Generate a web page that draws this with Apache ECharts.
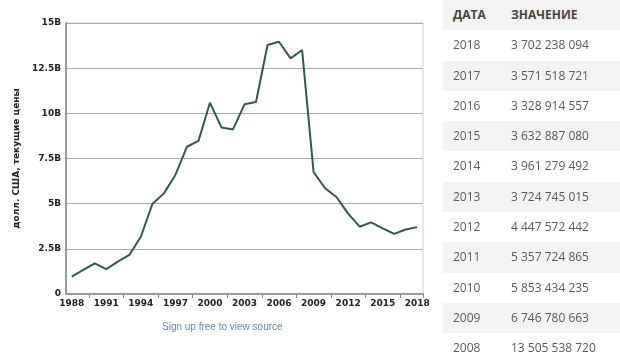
<!DOCTYPE html>
<html>
<head>
<meta charset="utf-8">
<script src="https://cdn.jsdelivr.net/npm/echarts@6/dist/echarts.min.js"></script>
<style>
html,body{margin:0;padding:0;background:#fff;}
#wrap{position:relative;width:620px;height:362px;overflow:hidden;}
#chart{position:absolute;left:0;top:0;width:620px;height:362px;}
#tbl{position:absolute;left:443px;top:0;width:177px;font-family:"Open Sans",sans-serif;font-size:12px;color:#5a5a5a;}
.row{height:30.3px;line-height:30.3px;position:relative;}
.row.g{background:#f3f3f3;}
.c1{position:absolute;left:10px;}
.c2{position:absolute;left:68px;}
.hdr{font-weight:bold;color:#444;}
</style>
</head>
<body>
<div id="wrap">
<div id="chart"></div>
<div id="tbl"></div>
</div>
<script>
const years = ['1988','1989','1990','1991','1992','1993','1994','1995','1996','1997','1998','1999','2000','2001','2002','2003','2004','2005','2006','2007','2008','2009','2010','2011','2012','2013','2014','2015','2016','2017','2018'];
const values = [0.96e9,1.33e9,1.70e9,1.38e9,1.79e9,2.16e9,3.17e9,4.98e9,5.57e9,6.59e9,8.15e9,8.47e9,10.59e9,9.22e9,9.11e9,10.50e9,10.63e9,13.78e9,13.96e9,13.04e9,13505538720,6746780663,5853434235,5357724865,4447572442,3724745015,3961279492,3632887080,3328914557,3571518721,3702238094];
const yTicks = [0,2.5e9,5e9,7.5e9,10e9,12.5e9,15e9];
const tableHeader = ['ДАТА','ЗНАЧЕНИЕ'];
const tableYears = ['2018','2017','2016','2015','2014','2013','2012','2011','2010','2009','2008'];
const tableValues = ['3 702 238 094','3 571 518 721','3 328 914 557','3 632 887 080','3 961 279 492','3 724 745 015','4 447 572 442','5 357 724 865','5 853 434 235','6 746 780 663','13 505 538 720'];
const yAxisTitle = 'долл. США, текущие цены';
const footText = 'Sign up free to view source';

// table
const tbl = document.getElementById('tbl');
let html = '<div class="row g hdr"><span class="c1">'+tableHeader[0]+'</span><span class="c2">'+tableHeader[1]+'</span></div>';
tableYears.forEach((y,i)=>{
  html += '<div class="row'+(i%2===1?' g':'')+'"><span class="c1">'+y+'</span><span class="c2">'+tableValues[i]+'</span></div>';
});
tbl.innerHTML = html;

const chart = echarts.init(document.getElementById('chart'), null, {renderer:'canvas'});
const fontFam = '"DejaVu Sans", Verdana, sans-serif';
chart.setOption({
  animation:false,
  grid:{left:66,right:197,top:23,bottom:68,show:true,borderColor:'#d0d0d0',borderWidth:1,backgroundColor:'transparent'},
  xAxis:{
    type:'category',
    data:years,
    boundaryGap:true,
    axisLine:{lineStyle:{color:'#999',width:2}},
    axisTick:{show:true,length:4,interval:(i)=>i%3===2,lineStyle:{color:'#888',width:1}},
    axisLabel:{interval:2,color:'#222',fontWeight:'bold',fontSize:9,fontFamily:fontFam,margin:5},
    splitLine:{show:false}
  },
  yAxis:{
    type:'value',
    min:yTicks[0],max:yTicks[yTicks.length-1],interval:yTicks[1]-yTicks[0],
    name:yAxisTitle,nameLocation:'middle',nameGap:45,nameRotate:90,
    nameTextStyle:{color:'#222',fontWeight:'bold',fontSize:9,fontFamily:fontFam},
    axisLine:{show:true,lineStyle:{color:'#999',width:2}},
    axisTick:{show:false},
    axisLabel:{color:'#222',fontWeight:'bold',fontSize:9,fontFamily:fontFam,margin:5,
      formatter:(v)=> v===0 ? '0' : (v/1e9)+'B'},
    splitLine:{lineStyle:{color:'#aaa',width:1}}
  },
  series:[{
    type:'line',
    data:values,
    symbol:'none',
    lineStyle:{color:'#33594a',width:2},
    z:3
  }],
  graphic:[{
    type:'text',left:162,top:322,
    style:{text:footText,fill:'#6586ad',font:'10px "Liberation Sans", Arial, sans-serif'}
  }]
});
</script>
</body>
</html>
